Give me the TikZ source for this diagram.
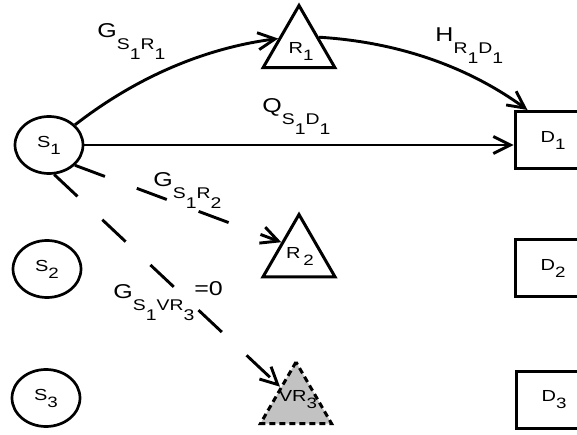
\documentclass[tikz,border=0pt]{standalone}
\usepackage{fontspec}
\setmainfont{Liberation Sans}[FakeStretch=1.25]
\usetikzlibrary{arrows.meta,shapes.geometric,calc}
\newcommand{\nl}[2]{#1\raisebox{-7pt}{\fontsize{15}{15}\selectfont #2}}
\newcommand{\elab}[5]{#1\raisebox{-12pt}{\fontsize{15.5}{15.5}\selectfont #2\raisebox{-10pt}{#3}#4\raisebox{-10pt}{#5}}}
\begin{document}
\begin{tikzpicture}[x=1pt,y=-1pt,
  line width=2.9pt,
  srcnode/.style={ellipse, draw, line width=2.7pt, minimum width=68pt, minimum height=57pt, inner sep=0pt, font=\fontsize{16}{16}\selectfont},
  relay/.style={regular polygon, regular polygon sides=3, draw, line width=3pt, minimum size=83pt, inner sep=0pt},
  virt/.style={relay, minimum size=82pt, fill=gray!48, dash pattern=on 6pt off 4pt},
  dest/.style={rectangle, draw, line width=3pt, minimum width=76pt, minimum height=57pt, inner sep=0pt, font=\fontsize{16}{16}\selectfont},
  nlab/.style={inner sep=0pt, font=\fontsize{16}{16}\selectfont},
  elabel/.style={anchor=base west, inner sep=0pt, font=\fontsize{20}{20}\selectfont},
  arr/.style={-{Straight Barb[length=17pt,width=17pt]}},
  longdash/.style={dash pattern=on 32pt off 34pt}
]
\useasboundingbox (0,0) rectangle (577,435);
% sources
\node[srcnode] (s1) at (49,145) {\nl{S}{1}};
\node[srcnode] (s2) at (47,269) {\nl{S}{2}};
\node[srcnode] (s3) at (46,398) {\nl{S}{3}};
% relays
\node[relay] (r1) at (299,47) {};
\node[relay] (r2) at (299,256) {};
\node[virt] (vr3) at (296,403) {};
\node[nlab] (r1t) at (301,51) {\nl{R}{1}};
\node[nlab] (r2t) at (300,256) {\nl{R\,}{2}};
\node[nlab] (vr3t) at (298,400) {\nl{VR}{3}};
% destinations
\node[dest] (d1) at (553,140) {\nl{D}{1}};
\node[dest] (d2) at (553,268) {\nl{D}{2}};
\node[dest] (d3) at (554,400) {\nl{D}{3}};
% connectors
\draw[arr] (s1) .. controls (138,76) and (206,48) .. ($(r1.corner 1)!0.54!(r1.corner 2)$);
\draw[arr] ($(r1.corner 1)!0.52!(r1.corner 3)$) .. controls (397,42) and (467,66) .. ($(d1.north west)+(14,0)$);
\draw[arr] (s1.east) -- (s1.east -| d1.west);
\draw[arr, longdash] (s1.-38) -- ($(r2.corner 1)!0.46!(r2.corner 2)$);
\draw[arr, longdash] (s1.-80) -- ($(vr3.corner 1)!0.42!(vr3.corner 2)$);
% labels
\node[elabel] (lg1) at (96,38) {\elab{G}{S}{1}{R}{1}};
\node[elabel] (lq) at (261,113) {\elab{Q}{S}{1}{D}{1}};
\node[elabel] (lh) at (434,42) {\elab{H}{R}{1}{D}{1}};
\node[elabel] (lg2) at (152,187) {\elab{G}{S}{1}{R}{2}};
\node[elabel] (lg3) at (112,298) {\elab{G}{S}{1}{VR}{3}\raisebox{3pt}{=0}};
\end{tikzpicture}
\end{document}
